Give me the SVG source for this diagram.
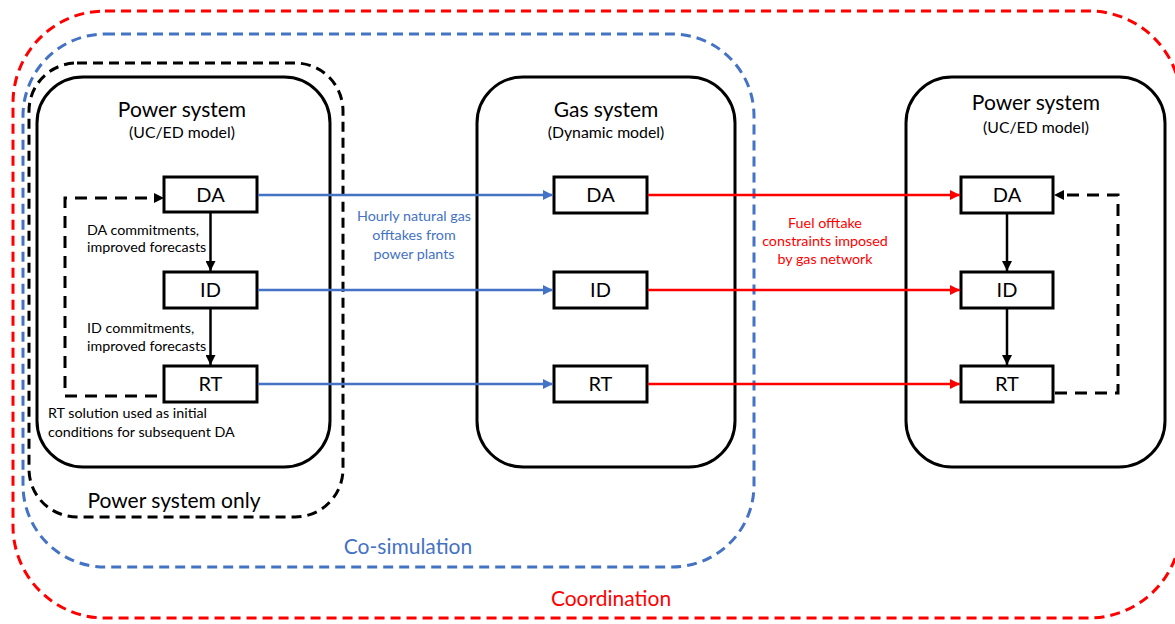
<svg xmlns="http://www.w3.org/2000/svg" width="1175" height="624" viewBox="0 0 1175 624">
  <style>
    text { font-family: Lato, "Open Sans", "Liberation Sans", sans-serif; fill: #000; }
    .title { font-size: 21px; text-anchor: middle; }
    .sub { font-size: 15.8px; text-anchor: middle; }
    .lbl { font-size: 20px; text-anchor: middle; }
    .note { font-size: 14.3px; }
    .blue { fill: #4472C4; }
    .red { fill: #FF0000; }
    .sys { fill: none; stroke: #000; stroke-width: 3; }
    .stage { fill: #fff; stroke: #000; stroke-width: 3; }
    .scope { fill: none; stroke-width: 3; stroke-dasharray: 10 6; }
    .conn-blue { stroke: #4472C4; stroke-width: 2.5; fill: none; }
    .conn-red { stroke: #FF0000; stroke-width: 2.5; fill: none; }
    .conn-black { stroke: #000; stroke-width: 2.5; fill: none; }
    .conn-dash { stroke: #000; stroke-width: 3; fill: none; stroke-dasharray: 12 8; }
  </style>
  <defs>
    <marker id="ah-blue" viewBox="0 0 10 10" refX="10" refY="5" markerWidth="10" markerHeight="10" markerUnits="userSpaceOnUse" orient="auto">
      <path d="M0,0 L10,5 L0,10 z" fill="#4472C4"/>
    </marker>
    <marker id="ah-red" viewBox="0 0 10 10" refX="10" refY="5" markerWidth="10" markerHeight="10" markerUnits="userSpaceOnUse" orient="auto">
      <path d="M0,0 L10,5 L0,10 z" fill="#FF0000"/>
    </marker>
    <marker id="ah-black" viewBox="0 0 10 10" refX="10" refY="5" markerWidth="10" markerHeight="10" markerUnits="userSpaceOnUse" orient="auto">
      <path d="M0,0 L10,5 L0,10 z" fill="#000"/>
    </marker>
  </defs>

  <rect width="1175" height="624" fill="#fff"/>

  <!-- scope outlines -->
  <g id="scope-coordination">
    <rect class="scope" x="13" y="11" width="1168" height="607" rx="92" ry="92" stroke="#FF0000"/>
    <text class="red" x="611" y="606" font-size="21" text-anchor="middle">Coordination</text>
  </g>
  <g id="scope-cosimulation">
    <rect class="scope" x="23" y="34" width="731" height="533" rx="82" ry="82" stroke="#4472C4"/>
    <text class="blue" x="408" y="554" font-size="21" text-anchor="middle">Co-simulation</text>
  </g>
  <g id="scope-power-only">
    <rect class="scope" x="29" y="63" width="314" height="454" rx="48" ry="48" stroke="#000"/>
    <text x="174" y="508" font-size="21" text-anchor="middle">Power system only</text>
  </g>

  <!-- left power system -->
  <g id="power-left">
    <rect class="sys" x="37" y="77" width="293" height="390" rx="46" ry="46"/>
    <text class="title" x="182" y="117">Power system</text>
    <text class="sub" x="182" y="138">(UC/ED model)</text>
    <text class="note" x="87" y="235">DA commitments,</text>
    <text class="note" x="87" y="252">improved forecasts</text>
    <text class="note" x="87" y="333">ID commitments,</text>
    <text class="note" x="87" y="351">improved forecasts</text>
    <text class="note" x="48" y="418">RT solution used as initial</text>
    <text class="note" x="48" y="437">conditions for subsequent DA</text>
  </g>
  <g id="power-left-da">
    <rect class="stage" x="164" y="177" width="93" height="35"/>
    <text class="lbl" x="210.5" y="202">DA</text>
  </g>
  <g id="power-left-id">
    <rect class="stage" x="164" y="272" width="93" height="36"/>
    <text class="lbl" x="210.5" y="297">ID</text>
  </g>
  <g id="power-left-rt">
    <rect class="stage" x="164" y="366" width="93" height="36"/>
    <text class="lbl" x="210.5" y="391">RT</text>
  </g>

  <!-- gas system -->
  <g id="gas">
    <rect class="sys" x="477" y="77" width="258" height="390" rx="46" ry="46"/>
    <text class="title" x="606" y="117">Gas system</text>
    <text class="sub" x="606" y="138">(Dynamic model)</text>
  </g>
  <g id="gas-da">
    <rect class="stage" x="554" y="177" width="93" height="36"/>
    <text class="lbl" x="600.5" y="202">DA</text>
  </g>
  <g id="gas-id">
    <rect class="stage" x="554" y="272" width="93" height="36"/>
    <text class="lbl" x="600.5" y="297">ID</text>
  </g>
  <g id="gas-rt">
    <rect class="stage" x="554" y="366" width="93" height="36"/>
    <text class="lbl" x="600.5" y="391">RT</text>
  </g>

  <!-- right power system -->
  <g id="power-right">
    <rect class="sys" x="906" y="77" width="259" height="390" rx="46" ry="46"/>
    <text class="title" x="1036" y="110">Power system</text>
    <text class="sub" x="1036" y="133">(UC/ED model)</text>
  </g>
  <g id="power-right-da">
    <rect class="stage" x="961" y="177" width="92" height="36"/>
    <text class="lbl" x="1007" y="202">DA</text>
  </g>
  <g id="power-right-id">
    <rect class="stage" x="961" y="272" width="92" height="36"/>
    <text class="lbl" x="1007" y="297">ID</text>
  </g>
  <g id="power-right-rt">
    <rect class="stage" x="961" y="366" width="92" height="36"/>
    <text class="lbl" x="1007" y="391">RT</text>
  </g>

  <!-- connectors -->
  <g id="connectors">
    <!-- power to gas: gas offtakes -->
    <line class="conn-blue" x1="258" y1="195" x2="553" y2="195" marker-end="url(#ah-blue)"/>
    <line class="conn-blue" x1="258" y1="290" x2="553" y2="290" marker-end="url(#ah-blue)"/>
    <line class="conn-blue" x1="258" y1="384" x2="553" y2="384" marker-end="url(#ah-blue)"/>
    <!-- gas to power: fuel constraints -->
    <line class="conn-red" x1="648" y1="195" x2="960" y2="195" marker-end="url(#ah-red)"/>
    <line class="conn-red" x1="648" y1="290" x2="960" y2="290" marker-end="url(#ah-red)"/>
    <line class="conn-red" x1="648" y1="384" x2="960" y2="384" marker-end="url(#ah-red)"/>
    <!-- sequential stages, left -->
    <line class="conn-black" x1="210.5" y1="213" x2="210.5" y2="271" marker-end="url(#ah-black)"/>
    <line class="conn-black" x1="210.5" y1="309" x2="210.5" y2="365" marker-end="url(#ah-black)"/>
    <!-- sequential stages, right -->
    <line class="conn-black" x1="1007" y1="213" x2="1007" y2="271" marker-end="url(#ah-black)"/>
    <line class="conn-black" x1="1007" y1="309" x2="1007" y2="365" marker-end="url(#ah-black)"/>
    <!-- RT feedback to next DA, left -->
    <path class="conn-dash" d="M157,396 H65 V198 H160"/>
    <path d="M154,193 L164,198 L154,203 z" fill="#000"/>
    <!-- RT feedback to next DA, right -->
    <path class="conn-dash" d="M1055,393 H1118 V195 H1058"/>
    <path d="M1064,190 L1054,195 L1064,200 z" fill="#000"/>

    <text class="note blue" text-anchor="middle" x="414" y="221">Hourly natural gas</text>
    <text class="note blue" text-anchor="middle" x="414" y="240">offtakes from</text>
    <text class="note blue" text-anchor="middle" x="414" y="259">power plants</text>
    <text class="note red" text-anchor="middle" x="825" y="228">Fuel offtake</text>
    <text class="note red" text-anchor="middle" x="825" y="246">constraints imposed</text>
    <text class="note red" text-anchor="middle" x="825" y="264">by gas network</text>
  </g>
</svg>
